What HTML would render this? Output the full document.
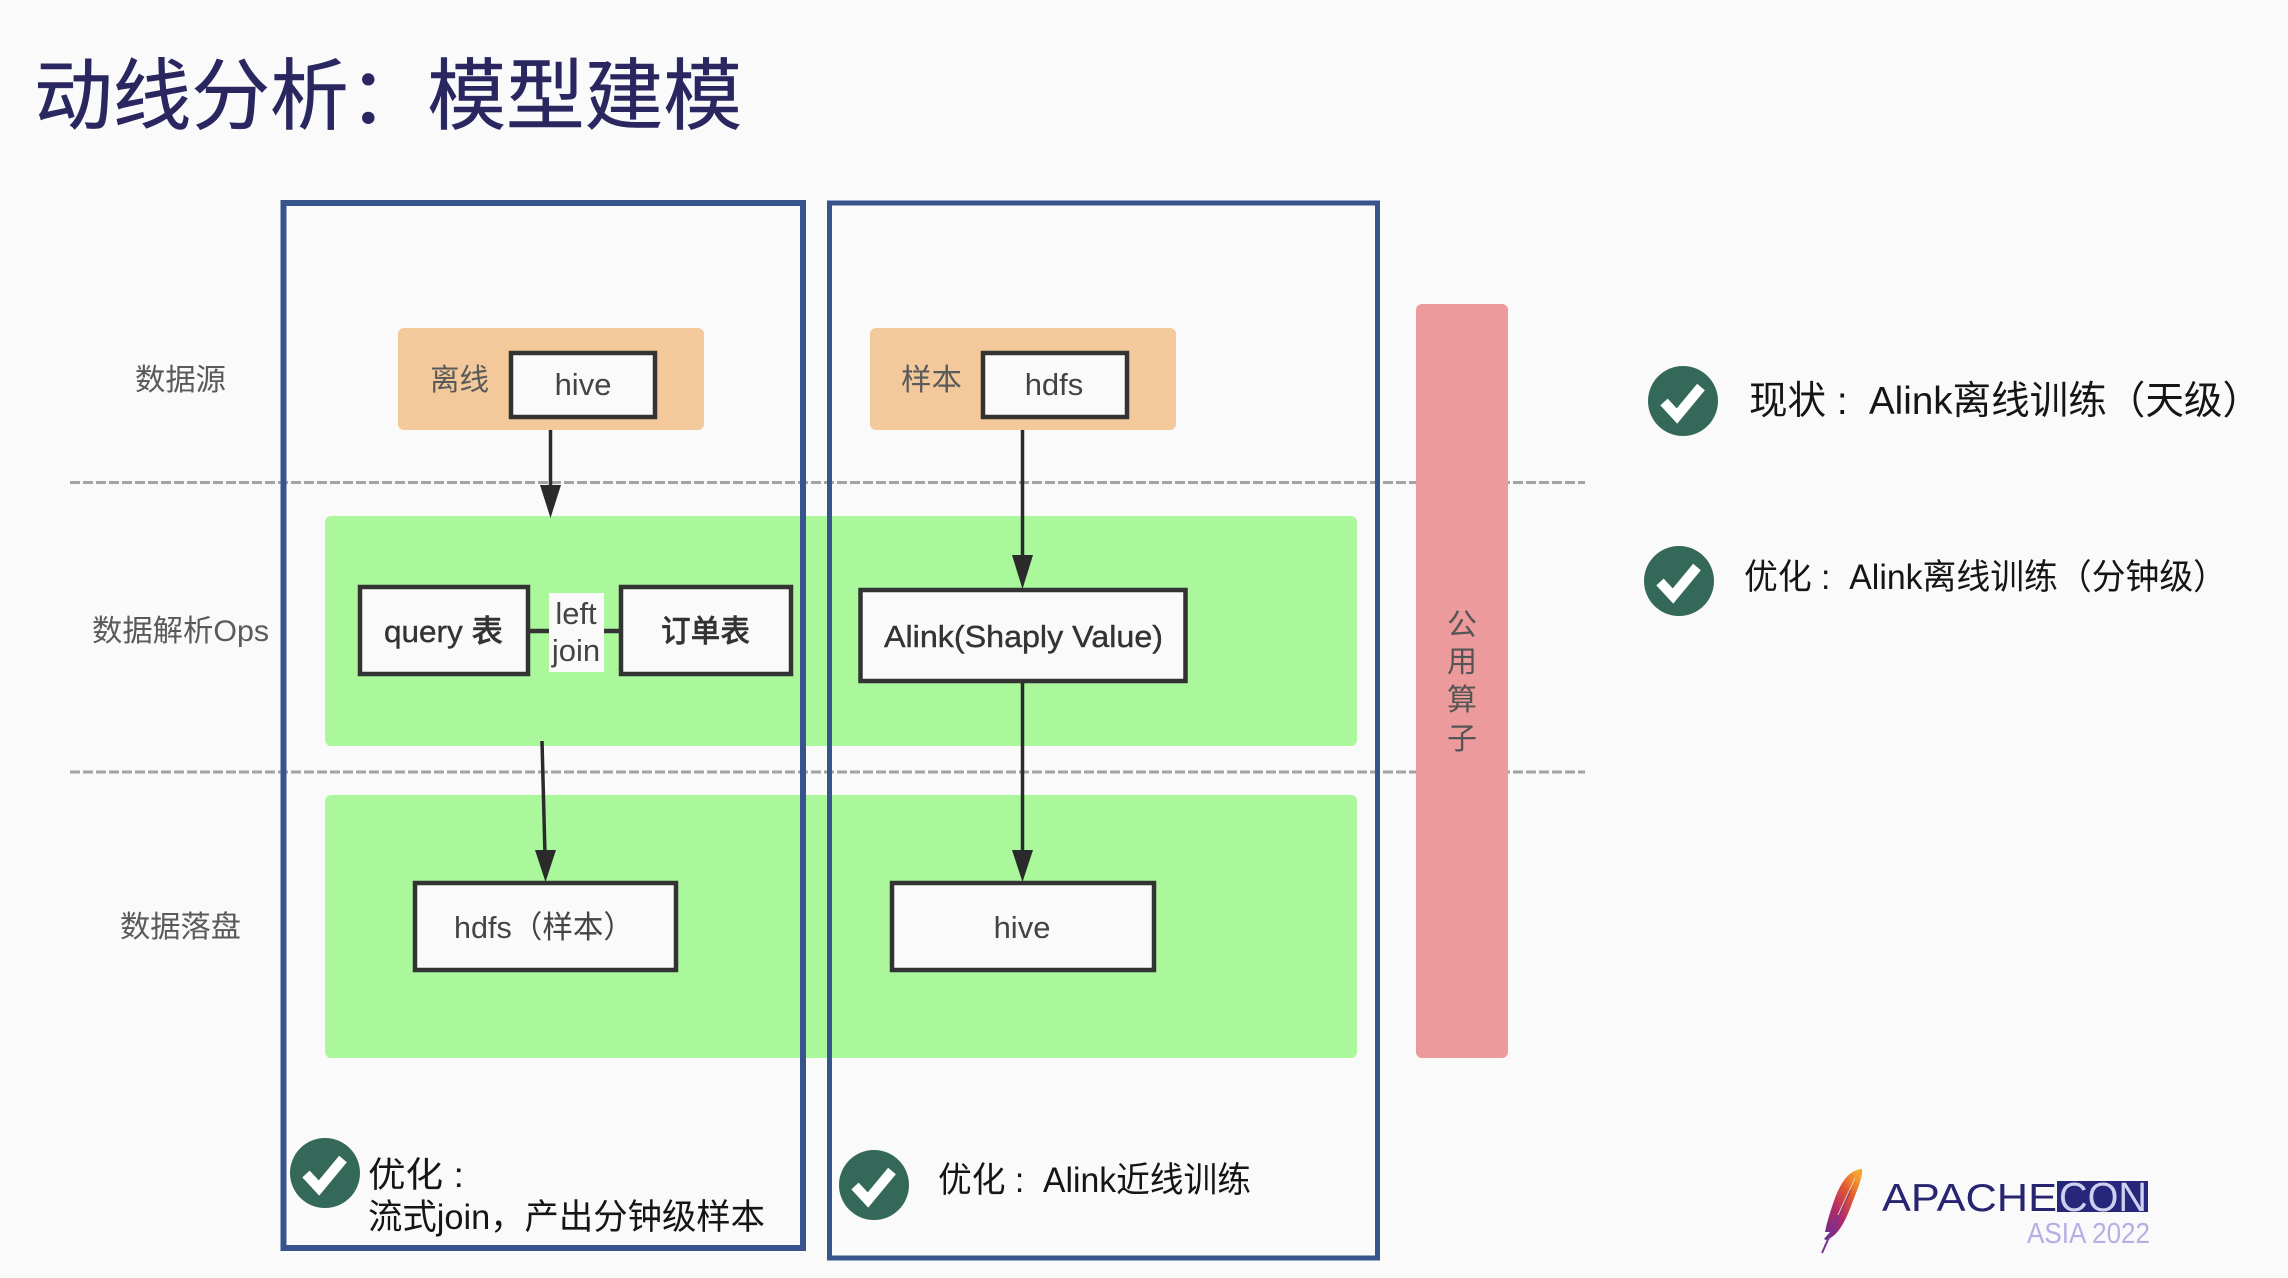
<!DOCTYPE html>
<html lang="zh"><head><meta charset="utf-8"><title>动线分析：模型建模</title>
<style>
html,body{margin:0;padding:0;background:#fafafa}
svg{display:block}
text{font-family:"Liberation Sans","Noto Sans CJK SC",sans-serif}
.lab{font-size:30px;fill:#5a5a5a}
.n{font-size:31px;fill:#444}
.b{font-size:31px;fill:#333;font-weight:500;stroke:#333;stroke-width:.4px}
.note{font-size:35px;fill:#151515}
</style></head><body>
<svg xmlns="http://www.w3.org/2000/svg" width="2288" height="1278" viewBox="0 0 2288 1278">
<defs>
<linearGradient id="f" x1="0.8" y1="0" x2="0.1" y2="1">
<stop offset="0" stop-color="#f7a531"/><stop offset=".3" stop-color="#e0592f"/><stop offset=".6" stop-color="#b62b68"/><stop offset="1" stop-color="#6a2c8e"/>
</linearGradient>
<g id="chk"><circle r="35" fill="#34695a"/><path d="M-19 1 L-6 15 L18 -14" fill="none" stroke="#fff" stroke-width="10"/></g>
</defs>
<rect width="2288" height="1278" fill="#fafafa"/>

<text x="34" y="123" font-size="78" fill="#2a2660" stroke="#2a2660" stroke-width=".5" textLength="708" lengthAdjust="spacingAndGlyphs">动线分析：模型建模</text>

<!-- green bands -->
<rect x="325" y="516" width="1032" height="230" rx="6" fill="#abf79c"/>
<rect x="325" y="795" width="1032" height="263" rx="6" fill="#abf79c"/>

<!-- dashed -->
<line x1="70" y1="482.500" x2="1585" y2="482.500" stroke="#a3a3a3" stroke-width="3" stroke-dasharray="10 3"/>
<line x1="70" y1="772" x2="1585" y2="772" stroke="#a3a3a3" stroke-width="3" stroke-dasharray="10 3"/>

<!-- outlines -->
<rect x="283.500" y="203" width="519.500" height="1045" fill="none" stroke="#38548c" stroke-width="6"/>
<rect x="829.500" y="203" width="548" height="1055" fill="none" stroke="#38548c" stroke-width="5"/>

<!-- pink -->
<rect x="1416" y="304" width="92" height="754" rx="6" fill="#ec9a9c"/>
<g fill="#555" text-anchor="middle">
<text x="1462" y="635" font-size="30" fill="#555">公</text>
<text x="1462" y="672" font-size="30" fill="#555">用</text>
<text x="1462" y="710" font-size="30" fill="#555">算</text>
<text x="1462" y="749" font-size="30" fill="#555">子</text>
</g>

<!-- orange -->
<rect x="398" y="328" width="306" height="102" rx="6" fill="#f3c99b"/>
<rect x="870" y="328" width="306" height="102" rx="6" fill="#f3c99b"/>
<rect x="511" y="353" width="144" height="64" fill="#fafafa" stroke="#333" stroke-width="4.500"/>
<rect x="983" y="353" width="144" height="64" fill="#fafafa" stroke="#333" stroke-width="4.500"/>
<text x="430" y="390" class="lab" textLength="59" lengthAdjust="spacingAndGlyphs">离线</text>
<text x="901" y="390" class="lab" textLength="61" lengthAdjust="spacingAndGlyphs">样本</text>
<text x="583" y="395" class="n" text-anchor="middle">hive</text>
<text x="1054" y="395" class="n" text-anchor="middle">hdfs</text>

<!-- left labels -->
<text x="135" y="390" class="lab" textLength="91" lengthAdjust="spacingAndGlyphs">数据源</text>
<text x="92" y="641" class="lab" textLength="177" lengthAdjust="spacingAndGlyphs">数据解析Ops</text>
<text x="120" y="937" class="lab" textLength="121" lengthAdjust="spacingAndGlyphs">数据落盘</text>

<!-- ops boxes -->
<line x1="530" y1="631" x2="619" y2="631" stroke="#333" stroke-width="4.500"/>
<rect x="360" y="587" width="168" height="87" fill="#fafafa" stroke="#333" stroke-width="4.500"/>
<rect x="621" y="587" width="170" height="87" fill="#fafafa" stroke="#333" stroke-width="4.500"/>
<rect x="549" y="593" width="55" height="79" fill="#fafafa"/>
<text x="576" y="624" class="n" font-size="30" text-anchor="middle">left</text>
<text x="576" y="661" class="n" text-anchor="middle">join</text>
<text x="384" y="642" class="b" textLength="119" lengthAdjust="spacingAndGlyphs">query 表</text>
<text x="661" y="642" class="b" textLength="89" lengthAdjust="spacingAndGlyphs">订单表</text>
<rect x="860.500" y="590" width="325" height="91" fill="#fafafa" stroke="#333" stroke-width="4.500"/>
<text x="884" y="647" class="b" textLength="279" lengthAdjust="spacingAndGlyphs">Alink(Shaply Value)</text>

<!-- storage boxes -->
<rect x="415" y="883" width="261" height="87" fill="#fafafa" stroke="#333" stroke-width="4.500"/>
<rect x="892" y="883" width="262" height="87" fill="#fafafa" stroke="#333" stroke-width="4.500"/>
<text x="454" y="938" class="n" textLength="180" lengthAdjust="spacingAndGlyphs">hdfs（样本）</text>
<text x="1022" y="938" class="n" text-anchor="middle">hive</text>

<!-- arrows -->
<g stroke="#2b2b2b" stroke-width="3.500" fill="none">
<line x1="550.500" y1="430" x2="550.500" y2="490"/>
<line x1="1022.500" y1="430" x2="1022.500" y2="560"/>
<line x1="542" y1="741" x2="545" y2="855"/>
<line x1="1022.500" y1="683" x2="1022.500" y2="855"/>
</g>
<g fill="#2b2b2b">
<polygon points="540,485 561,485 550.500,518"/>
<polygon points="1012,555 1033,555 1022.500,589"/>
<polygon points="535,850 556,850 545.500,882"/>
<polygon points="1012,850 1033,850 1022.500,882"/>
</g>

<!-- checks -->
<use href="#chk" x="325" y="1173"/>
<use href="#chk" x="874" y="1185"/>
<use href="#chk" x="1683" y="401"/>
<use href="#chk" x="1679" y="581"/>

<text x="368" y="1187" class="note" textLength="96" lengthAdjust="spacingAndGlyphs">优化 :</text>
<text x="368" y="1229" class="note" textLength="397" lengthAdjust="spacingAndGlyphs">流式join，产出分钟级样本</text>
<text x="938" y="1192" class="note" textLength="313" lengthAdjust="spacingAndGlyphs">优化 :&#160;&#160;Alink近线训练</text>
<text x="1749" y="414" font-size="39" fill="#151515" textLength="512" lengthAdjust="spacingAndGlyphs">现状 :&#160;&#160;Alink离线训练（天级）</text>
<text x="1744" y="589" font-size="35" fill="#151515" textLength="483" lengthAdjust="spacingAndGlyphs">优化 :&#160;&#160;Alink离线训练（分钟级）</text>

<!-- logo -->
<path d="M1862 1169 C1850 1170 1842 1180 1835 1198 C1830 1212 1827 1222 1825 1232 L1830 1232 L1824 1239 L1826 1240 C1838 1236 1845 1222 1851 1206 C1857 1190 1863 1178 1862 1169Z" fill="url(#f)"/>
<line x1="1822" y1="1253" x2="1850" y2="1190" stroke="#7a3390" stroke-width="2"/>
<line x1="1838" y1="1215" x2="1855" y2="1178" stroke="#f5c9a0" stroke-width="1"/>
<rect x="2057" y="1181" width="91" height="31" fill="#26267a"/>
<text x="1882" y="1211" font-size="39" fill="#27256f" textLength="175" lengthAdjust="spacingAndGlyphs">APACHE</text>
<text x="2059" y="1211" font-size="41" fill="#cfd0f0" textLength="88" lengthAdjust="spacingAndGlyphs">CON</text>
<text x="2027" y="1243" font-size="29" fill="#b5b0e4" textLength="123" lengthAdjust="spacingAndGlyphs">ASIA 2022</text>
</svg>
</body></html>
